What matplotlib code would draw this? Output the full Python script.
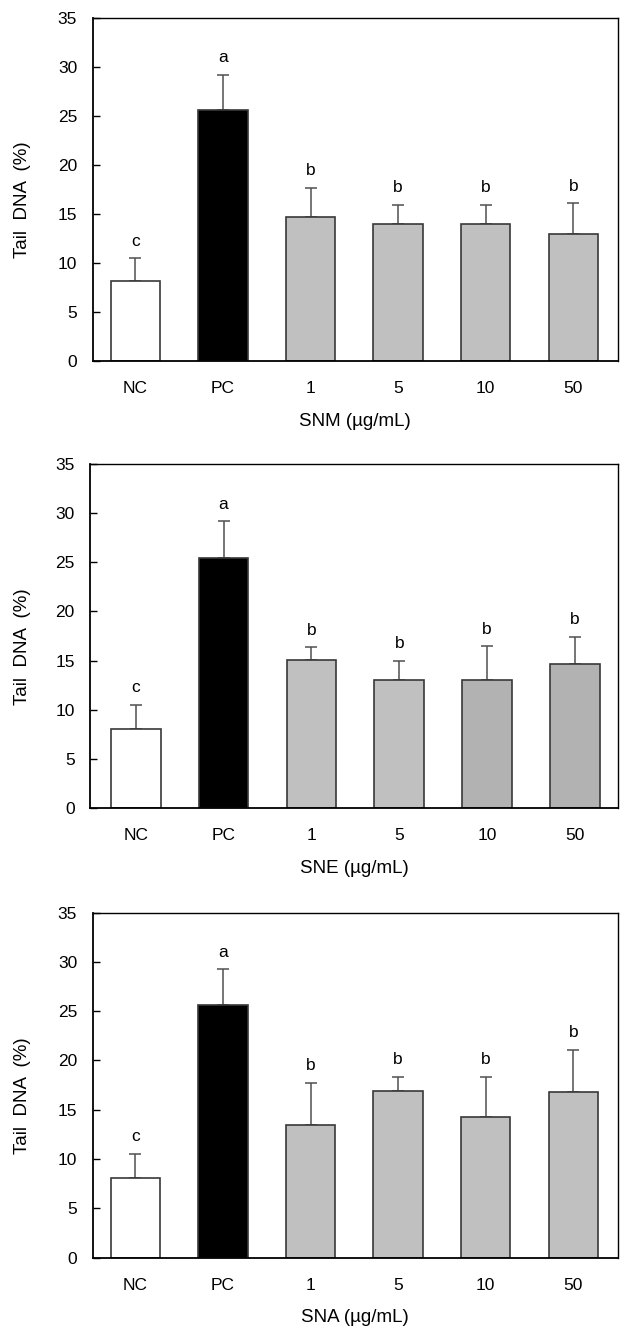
import matplotlib
matplotlib.use("Agg")
import matplotlib.pyplot as plt
import numpy as np

plt.rcParams['font.family'] = ['Liberation Sans', 'DejaVu Sans']

categories = ["NC", "PC", "1", "5", "10", "50"]
xlabels = ["SNM (µg/mL)", "SNE (µg/mL)", "SNA (µg/mL)"]

snm_mean = [8.1, 25.55, 14.65, 13.9, 13.9, 12.9]
snm_sd = [2.35, 3.65, 2.95, 2.0, 2.0, 3.15]
snm_letters = ["c", "a", "b", "b", "b", "b"]

sne_mean = [8.0, 25.45, 15.1, 13.0, 13.0, 14.7]
sne_sd = [2.5, 3.7, 1.25, 1.95, 3.45, 2.7]
sne_letters = ["c", "a", "b", "b", "b", "b"]

sna_mean = [8.1, 25.6, 13.5, 16.9, 14.3, 16.85]
sna_sd = [2.4, 3.65, 4.2, 1.4, 4.0, 4.25]
sna_letters = ["c", "a", "b", "b", "b", "b"]

means = [snm_mean, sne_mean, sna_mean]
sds = [snm_sd, sne_sd, sna_sd]
letters = [snm_letters, sne_letters, sna_letters]

colors = [
    ["white", "black", "#c0c0c0", "#c0c0c0", "#c0c0c0", "#c0c0c0"],
    ["white", "black", "#c0c0c0", "#c0c0c0", "#b2b2b2", "#b2b2b2"],
    ["white", "black", "#c0c0c0", "#c0c0c0", "#c0c0c0", "#c0c0c0"],
]

W, H = 623, 1326
fig = plt.figure(figsize=(W / 100, H / 100), dpi=100)

# axes boxes in pixels: left, right, top, bottom
boxes = [(92.5, 618, 17.7, 360.7), (90, 618, 464, 808), (92.5, 618, 912.7, 1257.5)]
xlims = [(-0.49, 5.51), (-0.52, 5.49), (-0.49, 5.51)]

fs = 12.5
fl = 13.5
for i in range(3):
    l, r, t, b = boxes[i]
    ax = fig.add_axes([l / W, 1 - b / H, (r - l) / W, (b - t) / H])
    x = np.arange(len(categories))
    ax.bar(x, means[i], width=0.565, color=colors[i], edgecolor="#383838",
           linewidth=1.2, zorder=2)
    ax.errorbar(x, means[i], yerr=[np.zeros(len(x)), sds[i]], fmt="none",
                ecolor="#505050", elinewidth=1.1, capsize=4.5, capthick=1.1, zorder=1)
    for xi, m, s, lt in zip(x, means[i], sds[i], letters[i]):
        ax.text(xi, m + s + 1.3, lt, ha="center", va="baseline", fontsize=fs)
    ax.set_xlim(*xlims[i])
    ax.set_ylim(0, 35)
    ax.set_yticks(range(0, 36, 5))
    ax.set_xticks(x)
    ax.set_xticklabels(categories, fontsize=fs)
    ax.tick_params(axis="y", direction="in", length=5, width=1, pad=11, labelsize=fs)
    ax.tick_params(axis="x", length=0, pad=14.5, labelsize=fs)
    for side in ["top", "right"]:
        ax.spines[side].set_linewidth(1.0)
    for side in ["left", "bottom"]:
        ax.spines[side].set_linewidth(1.3)
    ax.set_ylabel("Tail  DNA  (%)", fontsize=fl)
    ax.yaxis.set_label_coords((31 - l) / (r - l), 0.47)
    ax.set_xlabel(xlabels[i], fontsize=fl, labelpad=12)

fig.savefig("out.png", dpi=100)
